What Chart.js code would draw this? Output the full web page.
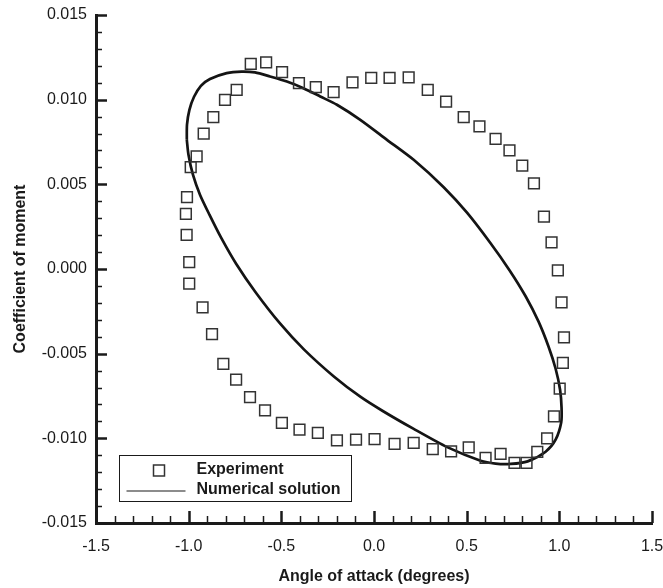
<!DOCTYPE html>
<html>
<head>
<meta charset="utf-8">
<script src="https://cdn.jsdelivr.net/npm/chart.js@4/dist/chart.umd.min.js"></script>
<style>
  html, body { margin: 0; padding: 0; background: #fff; }
  canvas { display: block; }
</style>
</head>
<body>
<canvas id="chartCanvas" width="663" height="588"></canvas>
<script>
// --- Experiment (squares) ---
const expAoa = [
  -0.957, -0.989, -1.009, -1.015, -1.011, -0.997, -0.997, -0.925, -0.874, -0.813,
  -0.744, -0.669, -0.588, -0.497, -0.402, -0.303, -0.200, -0.097, 0.003, 0.111,
  0.214, 0.317, 0.416, 0.511, 0.602, 0.683, 0.758, 0.823, 0.881, 0.934,
  0.971, 1.002, 1.019, 1.025, 1.012, 0.992, 0.958, 0.917, 0.863, 0.800,
  0.731, 0.656, 0.569, 0.484, 0.389, 0.290, 0.187, 0.084, -0.015, -0.116,
  -0.218, -0.314, -0.405, -0.496, -0.582, -0.665, -0.741, -0.804, -0.867, -0.919
];
const expCm = [
  0.00665, 0.00602, 0.00424, 0.00326, 0.00202, 0.00040, -0.00087, -0.00226, -0.00384, -0.00561,
  -0.00653, -0.00756, -0.00835, -0.00909, -0.00949, -0.00968, -0.01012, -0.01008, -0.01004, -0.01033,
  -0.01027, -0.01063, -0.01077, -0.01053, -0.01116, -0.01092, -0.01145, -0.01145, -0.01080, -0.01000,
  -0.00871, -0.00707, -0.00555, -0.00404, -0.00197, -0.00008, 0.00157, 0.00310, 0.00505, 0.00610,
  0.00700, 0.00769, 0.00842, 0.00897, 0.00989, 0.01058, 0.01131, 0.01128, 0.01128, 0.01102,
  0.01045, 0.01074, 0.01098, 0.01163, 0.01220, 0.01212, 0.01058, 0.00999, 0.00897, 0.00800
];

// --- Numerical solution (closed loop, clockwise from the left end) ---
const numAoa = [
  -1.010, -1.009, -0.996, -0.971, -0.934, -0.885, -0.795, -0.714, -0.642, -0.561,
  -0.470, -0.381, -0.290, -0.200, -0.074, 0.070, 0.214, 0.376, 0.503, 0.629,
  0.731, 0.818, 0.888, 0.942, 0.980, 1.004, 1.012, 1.010, 0.980, 0.926,
  0.829, 0.737, 0.656, 0.575, 0.395, 0.212, 0.045, -0.074, -0.215, -0.377,
  -0.506, -0.641, -0.744, -0.825, -0.888, -0.939, -0.977, -1.001, -1.010
];
const numCm = [
  0.00763, 0.00852, 0.00940, 0.01017, 0.01082, 0.01122, 0.01157, 0.01166, 0.01161, 0.01137,
  0.01107, 0.01068, 0.01019, 0.00970, 0.00881, 0.00763, 0.00645, 0.00483, 0.00331, 0.00152,
  -0.00007, -0.00161, -0.00311, -0.00459, -0.00589, -0.00713, -0.00819, -0.00907, -0.01008, -0.01079,
  -0.01136, -0.01151, -0.01149, -0.01132, -0.01052, -0.00943, -0.00837, -0.00754, -0.00636, -0.00476,
  -0.00323, -0.00134, 0.00031, 0.00185, 0.00321, 0.00439, 0.00557, 0.00675, 0.00763
];

// axis ranges
const xRange = [-1.5, 1.5];
const yRange = [-0.015, 0.015];
const xLabelEvery = 0.5;
const yLabelEvery = 0.005;

const ink = "#1a1a1a";
const FONT = "'Liberation Sans', Arial, Helvetica, sans-serif";

const isMajor = (v, every) => Math.abs(v / every - Math.round(v / every)) < 1e-6;

// inward tick marks + boxed legend
const tecplotAxes = {
  id: "tecplotAxes",
  afterDraw(chart) {
    const { ctx, chartArea: a } = chart;
    const xs = chart.scales.x, ys = chart.scales.y;
    ctx.save();
    ctx.strokeStyle = ink;
    ctx.lineCap = "butt";
    ys.ticks.forEach(t => {
      const py = Math.round(ys.getPixelForValue(t.value)) + 0.5;
      const major = isMajor(t.value, yLabelEvery);
      ctx.lineWidth = major ? 2.5 : 1.5;
      ctx.beginPath();
      ctx.moveTo(a.left, py);
      ctx.lineTo(a.left + (major ? 11 : 6), py);
      ctx.stroke();
    });
    xs.ticks.forEach(t => {
      const px = Math.round(xs.getPixelForValue(t.value)) + 0.5;
      const major = isMajor(t.value, xLabelEvery);
      ctx.lineWidth = major ? 2.5 : 1.5;
      ctx.beginPath();
      ctx.moveTo(px, a.bottom);
      ctx.lineTo(px, a.bottom - (major ? 12 : 7));
      ctx.stroke();
    });

    // legend
    const bx = a.left + 23.5, by = a.bottom - 67.5, bw = 232, bh = 46;
    ctx.fillStyle = "#fff";
    ctx.fillRect(bx, by, bw, bh);
    ctx.lineWidth = 1;
    ctx.strokeStyle = ink;
    ctx.strokeRect(bx, by, bw, bh);

    const ds = chart.data.datasets;
    ctx.strokeStyle = ds[0].borderColor;
    ctx.lineWidth = 1.5;
    ctx.strokeRect(bx + 34, by + 9.5, 11, 11);

    ctx.strokeStyle = ink;
    ctx.lineWidth = 1.2;
    ctx.beginPath();
    ctx.moveTo(bx + 7, by + 35.5);
    ctx.lineTo(bx + 66, by + 35.5);
    ctx.stroke();

    ctx.fillStyle = ink;
    ctx.font = "bold 16px " + FONT;
    ctx.textBaseline = "middle";
    ctx.textAlign = "left";
    ctx.fillText(ds[0].label, bx + 77, by + 14.5);
    ctx.fillText(ds[1].label, bx + 77, by + 34.5);
    ctx.restore();
  }
};

const canvas = document.getElementById("chartCanvas");

new Chart(canvas, {
  type: "scatter",
  data: {
    datasets: [
      {
        label: "Experiment",
        data: expAoa.map((x, i) => ({ x, y: expCm[i] })),
        pointStyle: "rect",
        pointRadius: 7.6,
        pointBorderWidth: 1.5,
        borderColor: "#333333",
        backgroundColor: "rgba(255,255,255,0)",
        showLine: false
      },
      {
        label: "Numerical solution",
        data: numAoa.map((x, i) => ({ x, y: numCm[i] })),
        showLine: true,
        pointRadius: 0,
        borderColor: "#141414",
        borderWidth: 2.7,
        tension: 0.25,
        fill: false
      }
    ]
  },
  plugins: [tecplotAxes],
  options: {
    responsive: false,
    animation: false,
    layout: { padding: { top: 15, right: 11, left: 0, bottom: 0 } },
    plugins: {
      legend: { display: false },
      tooltip: { enabled: false }
    },
    scales: {
      x: {
        type: "linear",
        min: xRange[0],
        max: xRange[1],
        afterFit: s => { s.height = 65; s.paddingLeft = 0; s.paddingRight = 0; },
        grid: { display: false, drawTicks: false },
        border: { display: true, width: 3, color: ink },
        ticks: {
          stepSize: 0.1,
          autoSkip: false,
          maxRotation: 0,
          padding: 14,
          color: ink,
          font: { family: FONT, size: 16 },
          callback: v => isMajor(v, xLabelEvery) ? v.toFixed(1) : ""
        },
        title: {
          display: true,
          text: "Angle of attack (degrees)",
          color: ink,
          font: { family: FONT, size: 16, weight: "bold" },
          padding: { top: 0, bottom: 2 }
        }
      },
      y: {
        type: "linear",
        min: yRange[0],
        max: yRange[1],
        afterFit: s => { s.width = 96; s.paddingTop = 0; s.paddingBottom = 0; },
        grid: { display: false, drawTicks: false },
        border: { display: true, width: 3, color: ink },
        ticks: {
          stepSize: 0.001,
          autoSkip: false,
          padding: 9,
          color: ink,
          font: { family: FONT, size: 16 },
          callback: v => isMajor(v, yLabelEvery) ? (Math.abs(v) < 1e-9 ? "0.000" : v.toFixed(3)) : ""
        },
        title: {
          display: true,
          text: "Coefficient of moment",
          color: ink,
          font: { family: FONT, size: 16, weight: "bold" },
          padding: { top: 11, bottom: 0 }
        }
      }
    }
  }
});
</script>
</body>
</html>
